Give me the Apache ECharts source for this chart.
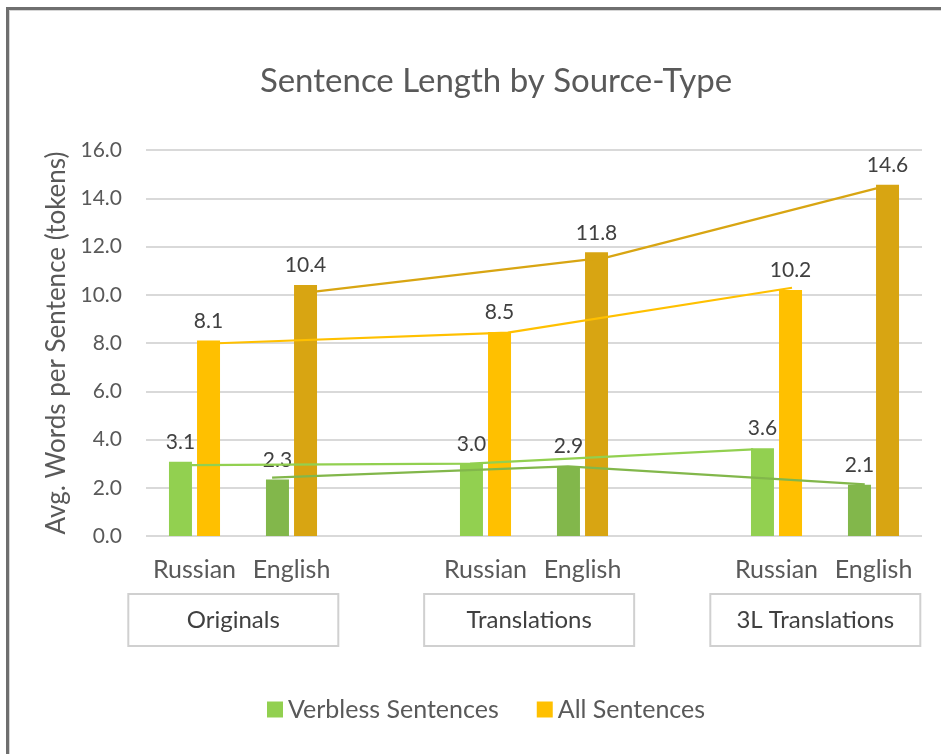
<!DOCTYPE html>
<html>
<head>
<meta charset="utf-8">
<script src="https://cdn.jsdelivr.net/npm/echarts@6/dist/echarts.min.js"></script>
<style>
  html, body { margin: 0; padding: 0; background: #fff; overflow: hidden; width: 941px; height: 754px; }
  #chart { position: absolute; left: 0; top: 0; width: 992px; height: 754px; }
  #frame { position: absolute; left: 6px; top: 7px; width: 2000px; height: 2000px;
           border-left: 3px solid #6f6f6f; border-top: 3px solid #6f6f6f;
           box-shadow: inset 1px 1px 0 #d6d6d6; pointer-events: none; }
</style>
</head>
<body>
<div id="chart"></div>
<div id="frame"></div>
<script>
// ---- data ----
const categories = ['Russian', 'English', '', 'Russian', 'English', '', 'Russian', 'English'];
const groups = ['Originals', 'Translations', '3L Translations'];
const groupPositions = [0.4, 3.45, 6.4];           // category-index positions of the group boxes
const verbless = [3.08, 2.34, null, 3.01, 2.90, null, 3.64, 2.12];
const allSent  = [8.10, 10.40, null, 8.46, 11.76, null, 10.20, 14.56];
const isEnglish = [false, true, false, false, true, false, false, true];
// connecting lines (x in category-index units, y in words)
const lineRussianAll      = [[0.24, 7.99], [3.23, 8.43], [6.16, 10.29]];
const lineEnglishAll      = [[1.24, 10.13], [4.25, 11.55], [7.03, 14.41]];
const lineRussianVerbless = [[-0.03, 2.94], [2.84, 3.00], [5.76, 3.59]];
const lineEnglishVerbless = [[0.80, 2.42], [3.85, 2.89], [6.91, 2.14]];
const yTicks = { min: 0, max: 16, interval: 2 };

const C = {
  lightGreen: '#92D050', darkGreen: '#82B74B',
  yellow: '#FFC000', gold: '#D8A512'
};
const FONT = 'Lato';

function barData(vals, cRus, cEng) {
  return vals.map((v, i) => v == null ? null : {
    value: v, itemStyle: { color: isEnglish[i] ? cEng : cRus }
  });
}
const lbl = {
  show: true, position: 'top', distance: 9,
  fontFamily: FONT, fontSize: 21, color: '#404040',
  formatter: p => p.value == null ? '' : Number(p.value).toFixed(1)
};
function lineSeries(name, data, color) {
  return {
    name, type: 'line', xAxisIndex: 1, yAxisIndex: 0, data,
    showSymbol: false, symbol: 'none', z: 5, silent: true,
    lineStyle: { color, width: 2.2 }, itemStyle: { color }
  };
}

const chart = echarts.init(document.getElementById('chart'), null, { renderer: 'canvas' });
chart.setOption({
  animation: false,
  backgroundColor: 'transparent',
  title: {
    text: 'Sentence Length by Source-Type', left: 'center', top: 60,
    textStyle: { fontFamily: FONT, fontSize: 33, fontWeight: 'normal', color: '#595959' }
  },
  legend: {
    data: ['Verbless Sentences', 'All Sentences'],
    left: 262, top: 692, icon: 'rect', itemWidth: 16, itemHeight: 16, itemGap: 38,
    textStyle: { fontFamily: FONT, fontSize: 25, color: '#595959' }
  },
  grid: { left: 146, right: 70, top: 150, bottom: 218, containLabel: false },
  xAxis: [
    {
      type: 'category', data: categories, position: 'bottom',
      axisLine: { show: false }, axisTick: { show: false },
      axisLabel: { interval: 0, margin: 21, fontFamily: FONT, fontSize: 25, color: '#595959' }
    },
    {
      type: 'value', min: -0.5, max: 7.5, show: false
    },
    {
      type: 'value', min: -0.5, max: 7.5, position: 'bottom',
      axisLine: { show: false }, axisTick: { show: false }, splitLine: { show: false },
      axisLabel: {
        customValues: groupPositions,
        formatter: v => groups[groupPositions.indexOf(v)] || '',
        margin: 59, width: 208, height: 50, lineHeight: 50, align: 'center',
        borderColor: '#D0D0D0', borderWidth: 2, backgroundColor: '#fff',
        fontFamily: FONT, fontSize: 24, color: '#404040'
      }
    }
  ],
  yAxis: {
    type: 'value', min: yTicks.min, max: yTicks.max, interval: yTicks.interval,
    name: 'Avg. Words per Sentence (tokens)', nameLocation: 'middle', nameGap: 74,
    nameTextStyle: { fontFamily: FONT, fontSize: 26, color: '#595959' },
    axisLine: { show: false }, axisTick: { show: false },
    axisLabel: { margin: 24, fontFamily: FONT, fontSize: 21, color: '#595959', formatter: v => v.toFixed(1) },
    splitLine: { lineStyle: { color: '#D9D9D9', width: 2 } }
  },
  series: [
    {
      name: 'Verbless Sentences', type: 'bar', barWidth: 23, barGap: '22%',
      itemStyle: { color: C.lightGreen },
      data: barData(verbless, C.lightGreen, C.darkGreen), label: lbl
    },
    {
      name: 'All Sentences', type: 'bar', barWidth: 23,
      itemStyle: { color: C.yellow },
      data: barData(allSent, C.yellow, C.gold), label: lbl
    },
    lineSeries('l1', lineRussianAll, C.yellow),
    lineSeries('l2', lineEnglishAll, C.gold),
    lineSeries('l3', lineRussianVerbless, C.lightGreen),
    lineSeries('l4', lineEnglishVerbless, C.darkGreen)
  ]
});
</script>
</body>
</html>
